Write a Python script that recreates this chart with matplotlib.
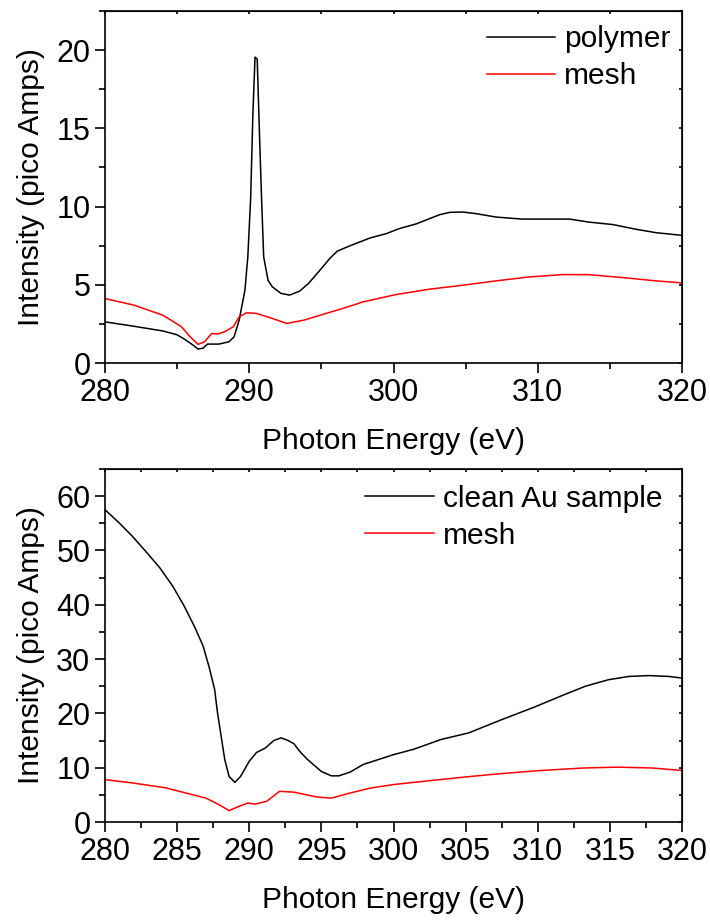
import matplotlib.pyplot as plt
from matplotlib.ticker import MultipleLocator

plt.rcParams['font.family'] = ['Liberation Sans', 'DejaVu Sans']

# top panel: polymer vs mesh
poly_e = [280, 282, 284, 284.5, 285, 285.43, 286.1, 286.45, 286.8, 287.1, 287.9,
          288.6, 288.95, 289.3, 289.7, 289.9, 290.1, 290.25, 290.4, 290.55, 290.7,
          290.85, 291.0, 291.3, 291.6, 292.2, 292.8, 293.5, 294.1, 295.0, 295.6,
          296.1, 297.0, 298.4, 299.5, 300.4, 301.6, 302.5, 303.2, 303.9, 304.8,
          305.7, 307.1, 308.9, 310.5, 312.2, 313.5, 315.2, 316.8, 318.2, 320]
poly_i = [2.63, 2.35, 2.05, 1.93, 1.8, 1.57, 1.15, 0.89, 0.95, 1.21, 1.21,
          1.36, 1.68, 2.74, 4.66, 6.78, 10.6, 15.9, 19.55, 19.43, 14.86,
          10.6, 6.78, 5.29, 4.87, 4.45, 4.34, 4.6, 5.08, 6.04, 6.7,
          7.15, 7.5, 8.0, 8.27, 8.59, 8.9, 9.23, 9.48, 9.63, 9.65,
          9.55, 9.33, 9.2, 9.2, 9.2, 9.01, 8.85, 8.55, 8.33, 8.16]

mesh1_e = [280, 282, 284, 284.5, 285.3, 285.9, 286.45, 286.9, 287.4, 287.8, 288.3,
           288.9, 289.3, 289.8, 290.5, 291.4, 292.6, 293.8, 295.0, 296.5, 297.9,
           300.2, 302.5, 304.8, 307.1, 309.4, 311.7, 313.5, 315.9, 318.2, 320]
mesh1_i = [4.12, 3.7, 3.06, 2.78, 2.32, 1.68, 1.19, 1.36, 1.89, 1.85, 2.0,
           2.32, 2.95, 3.21, 3.17, 2.91, 2.53, 2.74, 3.08, 3.49, 3.91,
           4.38, 4.72, 4.97, 5.25, 5.5, 5.65, 5.65, 5.46, 5.25, 5.12]

# bottom panel: clean Au sample vs mesh
au_e = [280, 280.97, 281.9, 282.8, 283.8, 284.7, 285.5, 286.2, 286.8, 287.2, 287.6,
        287.8, 288.05, 288.3, 288.6, 289.0, 289.4, 290.0, 290.5, 291.1, 291.7,
        292.2, 292.7, 293.1, 293.5, 294.0, 295.0, 295.7, 296.2, 297, 297.9,
        300, 301.4, 303.3, 305.2, 307.5, 309.8, 311.7, 313.3, 314.9, 316.3,
        317.7, 319.1, 320]
au_i = [57.5, 55.1, 52.6, 49.9, 46.8, 43.4, 39.7, 36.0, 32.4, 28.7, 24.4,
        20.1, 15.8, 11.5, 8.4, 7.3, 8.4, 11.2, 12.8, 13.6, 15.0,
        15.5, 15.0, 14.4, 13.0, 11.6, 9.3, 8.5, 8.5, 9.2, 10.6,
        12.4, 13.4, 15.2, 16.4, 18.85, 21.2, 23.3, 25.0, 26.2, 26.8,
        26.96, 26.8, 26.5]

mesh2_e = [280, 281.9, 284.2, 285.6, 287.0, 287.9, 288.6, 289.3, 289.9, 290.4,
           291.2, 292.1, 293.1, 294.7, 295.7, 297, 298.4, 300, 302.1, 305,
           307.4, 310, 313.2, 315.5, 317.9, 320]
mesh2_i = [7.8, 7.2, 6.3, 5.35, 4.4, 3.2, 2.1, 2.9, 3.5, 3.3,
           3.8, 5.65, 5.5, 4.6, 4.4, 5.35, 6.25, 6.9, 7.5, 8.3,
           8.9, 9.45, 9.95, 10.1, 9.95, 9.5]

fig = plt.figure(figsize=(7.1, 9.23), dpi=100)
ax1 = fig.add_axes([0.1479, 0.6067, 0.8127, 0.3814])
ax2 = fig.add_axes([0.1479, 0.1094, 0.8127, 0.3825])


def style(ax, ymax, xmaj, ymaj):
    ax.set_xlim(280, 320)
    ax.set_ylim(0, ymax)
    ax.xaxis.set_major_locator(MultipleLocator(xmaj))
    ax.xaxis.set_minor_locator(MultipleLocator(xmaj / 2))
    ax.yaxis.set_major_locator(MultipleLocator(ymaj))
    ax.yaxis.set_minor_locator(MultipleLocator(ymaj / 2))
    for s in ax.spines.values():
        s.set_linewidth(1.2)
    ax.tick_params(which='major', direction='out', length=7, width=1.2, labelsize=22)
    ax.tick_params(which='minor', direction='out', length=4.3, width=1.2)
    # mirrored ticks on top and right, pointing inward
    top = ax.secondary_xaxis('top')
    top.xaxis.set_major_locator(MultipleLocator(xmaj))
    top.xaxis.set_minor_locator(MultipleLocator(xmaj / 2))
    top.tick_params(which='both', direction='in', length=2.5, width=1.2, labeltop=False)
    right = ax.secondary_yaxis('right')
    right.yaxis.set_major_locator(MultipleLocator(ymaj))
    right.yaxis.set_minor_locator(MultipleLocator(ymaj / 2))
    right.tick_params(which='both', direction='in', length=2.5, width=1.2, labelright=False)
    ax.set_xlabel('Photon Energy (eV)', fontsize=21.5, labelpad=14)
    ax.set_ylabel('Intensity (pico Amps)', fontsize=21.5, labelpad=8)


ax1.plot(poly_e, poly_i, color='black', lw=1.1, label='polymer')
ax1.plot(mesh1_e, mesh1_i, color='red', lw=1.1, label='mesh')
style(ax1, 22.5, 10, 5)
ax1.legend(loc='upper left', bbox_to_anchor=(0.6615, 0.96), frameon=False,
           fontsize=21.5, handlelength=2.3, handletextpad=0.3, labelspacing=0.3,
           borderpad=0, borderaxespad=0)

ax2.plot(au_e, au_i, color='black', lw=1.1, label='clean Au sample')
ax2.plot(mesh2_e, mesh2_i, color='red', lw=1.1, label='mesh')
style(ax2, 65, 5, 10)
ax2.legend(loc='upper left', bbox_to_anchor=(0.4506, 0.955), frameon=False,
           fontsize=21.5, handlelength=2.3, handletextpad=0.3, labelspacing=0.3,
           borderpad=0, borderaxespad=0)

fig.savefig('out.png', dpi=100)
